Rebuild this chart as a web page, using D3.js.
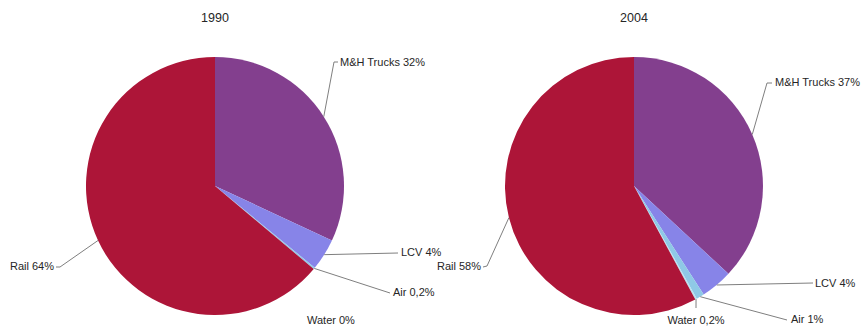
<!DOCTYPE html>
<html>
<head>
<meta charset="utf-8">
<script src="https://cdn.jsdelivr.net/npm/d3@7"></script>
<style>
  html, body { margin: 0; padding: 0; background: #fff; }
  svg text { font-family: "Liberation Sans", Arial, sans-serif; fill: #262626; }
</style>
</head>
<body>
<svg id="chart" width="863" height="326"></svg>
<script>
// Freight modal split, clockwise from 12 o'clock
const categories = ["M&H Trucks", "LCV", "Air", "Water", "Rail"];
const years = ["1990", "2004"];
const values1990 = [32, 4, 0.2, 0, 64];
const values2004 = [37, 4, 1, 0.2, 58];
const labels1990 = ["M&H Trucks 32%", "LCV 4%", "Air 0,2%", "Water 0%", "Rail 64%"];
const labels2004 = ["M&H Trucks 37%", "LCV 4%", "Air 1%", "Water 0,2%", "Rail 58%"];

const colors = d3.scaleOrdinal()
  .domain(categories)
  .range(["#833F8E", "#8784E8", "#8FC9E6", "#B9E0EE", "#AD1538"]);

// Label placement for each pie: text anchor point and leader elbow points
const layout = [
  {
    cx: 215, cy: 186, r: 129, titleY: 22,
    labels: [
      { x: 340, y: 62, anchor: "start", leader: [[334, 62], [338, 62]] },
      { x: 401, y: 252, anchor: "start", leader: [[398, 253]] },
      { x: 393, y: 292, anchor: "start", leader: [[390, 293]] },
      { x: 307, y: 320, anchor: "start", leader: null },
      { x: 54, y: 266, anchor: "end", leader: [[60, 267], [56, 267]] }
    ]
  },
  {
    cx: 634, cy: 186, r: 129, titleY: 22,
    labels: [
      { x: 775, y: 82, anchor: "start", leader: [[767, 83], [772, 83]] },
      { x: 815, y: 283, anchor: "start", leader: [[813, 283]] },
      { x: 791, y: 319, anchor: "start", leader: [[787, 320]] },
      { x: 696, y: 320, anchor: "middle", leader: [[696, 308]] },
      { x: 481, y: 266, anchor: "end", leader: [[487, 266], [483, 267]] }
    ]
  }
];

const svg = d3.select("#chart");
const pie = d3.pie().sort(null).value(d => d.value);

[values1990, values2004].forEach((vals, i) => {
  const L = layout[i];
  const texts = i === 0 ? labels1990 : labels2004;
  const data = categories.map((c, k) => ({ cat: c, value: vals[k], label: texts[k] }));
  const arcs = pie(data);
  const arc = d3.arc().innerRadius(0).outerRadius(L.r);

  svg.append("text")
    .attr("x", L.cx).attr("y", L.titleY)
    .attr("text-anchor", "middle")
    .attr("font-size", 12.5)
    .text(years[i]);

  const g = svg.append("g").attr("transform", `translate(${L.cx},${L.cy})`);
  g.selectAll("path.slice")
    .data(arcs)
    .join("path")
    .attr("class", "slice")
    .attr("d", arc)
    .attr("fill", d => colors(d.data.cat));

  // leader lines start on the rim at each slice's mid angle
  const line = d3.line();
  arcs.forEach((a, k) => {
    const lab = L.labels[k];
    if (lab.leader) {
      const mid = (a.startAngle + a.endAngle) / 2;
      const start = [L.cx + L.r * Math.sin(mid), L.cy - L.r * Math.cos(mid)];
      svg.append("path")
        .attr("d", line([start, ...lab.leader]))
        .attr("fill", "none")
        .attr("stroke", "#7f7f7f")
        .attr("stroke-width", 1);
    }
    svg.append("text")
      .attr("x", lab.x).attr("y", lab.y)
      .attr("dy", "0.35em")
      .attr("text-anchor", lab.anchor)
      .attr("font-size", 11)
      .text(a.data.label);
  });
});
</script>
</body>
</html>
